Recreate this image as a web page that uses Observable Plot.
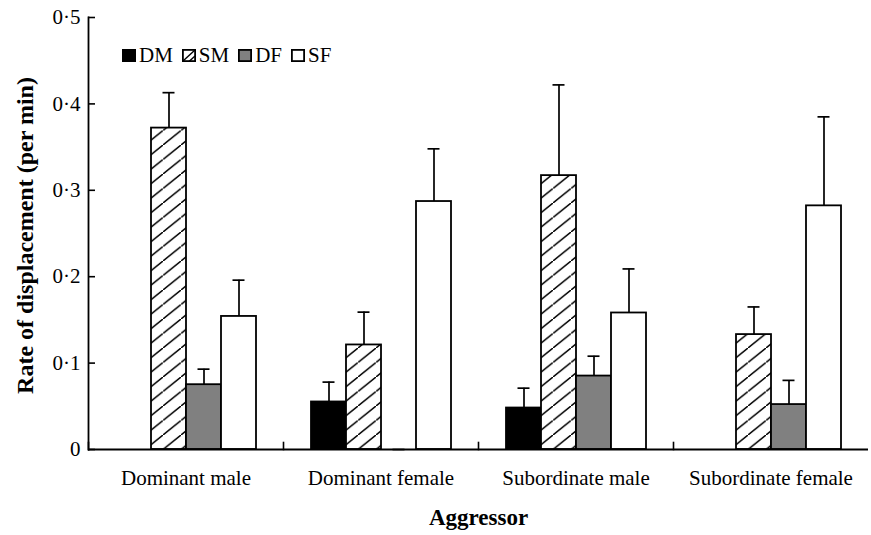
<!DOCTYPE html>
<html>
<head>
<meta charset="utf-8">
<script src="https://cdn.jsdelivr.net/npm/d3@7"></script>
<script src="https://cdn.jsdelivr.net/npm/@observablehq/plot@0.6"></script>
<style>
  html, body { margin: 0; padding: 0; background: white; }
  #wrap { position: relative; width: 871px; height: 535px; font-family: "Liberation Serif", "Times New Roman", serif; }
  #legend { position: absolute; left: 122px; top: 43px; display: flex; align-items: center; font-size: 21px; color: black; }
  #legend .item { display: flex; align-items: center; margin-right: 9px; }
  #legend svg { margin-right: 3px; }
</style>
</head>
<body>
<div id="wrap"><div id="legend"></div></div>
<script>
const aggressors = ["Dominant male", "Dominant female", "Subordinate male", "Subordinate female"];
const classes = ["DM", "SM", "DF", "SF"];
const classFills = ["black", "url(#hatch)", "#808080", "white"];

// mean rate of displacement per class, by aggressor
const meanDM = [null, 0.055, 0.048, null];
const meanSM = [0.372, 0.121, 0.317, 0.133];
const meanDF = [0.075, 0, 0.085, 0.052];
const meanSF = [0.154, 0.287, 0.158, 0.282];
// standard errors
const seDM = [null, 0.023, 0.023, null];
const seSM = [0.041, 0.038, 0.105, 0.032];
const seDF = [0.018, 0, 0.023, 0.028];
const seSF = [0.042, 0.061, 0.051, 0.103];

const yTicks = [0, 0.1, 0.2, 0.3, 0.4, 0.5];
const yTickLabels = ["0", "0·1", "0·2", "0·3", "0·4", "0·5"];

const means = {DM: meanDM, SM: meanSM, DF: meanDF, SF: meanSF};
const ses = {DM: seDM, SM: seSM, DF: seDF, SF: seSF};
const rows = [];
aggressors.forEach((a, i) => {
  classes.forEach(c => {
    const v = means[c][i];
    if (v != null) rows.push({agg: a, cls: c, value: v, upper: v + ses[c][i]});
  });
});

const chart = Plot.plot({
  width: 871,
  height: 535,
  marginLeft: 87,
  marginRight: 2,
  marginTop: 17,
  marginBottom: 86,
  style: {fontFamily: "Liberation Serif, Times New Roman, serif", fontSize: "21px", color: "black", background: "white"},
  fx: {domain: aggressors, padding: 0},
  x: {domain: classes, paddingInner: 0, paddingOuter: 0.72, axis: null},
  y: {domain: [0, 0.5]},
  color: {domain: classes, range: classFills},
  marks: [
    Plot.barY(rows, {fx: "agg", x: "cls", y: "value", fill: "cls", stroke: "black", strokeWidth: 1.8}),
    Plot.ruleX(rows, {fx: "agg", x: "cls", y1: "value", y2: "upper", stroke: "black", strokeWidth: 1.7}),
    Plot.tickY(rows, {fx: "agg", x: "cls", y: "upper", insetLeft: 11.5, insetRight: 11.5, stroke: "black", strokeWidth: 1.7}),
    Plot.ruleY([0], {stroke: "black", strokeWidth: 1.8}),
    Plot.frame({anchor: "left", insetTop: 425, stroke: "black", strokeWidth: 1.6}),
    Plot.frame({anchor: "left", facet: "super", stroke: "black", strokeWidth: 1.8}),
    Plot.axisY({ticks: yTicks, tickSize: -7, fill: "none", label: null, strokeWidth: 1.6}),
    Plot.axisY({ticks: yTicks, tickSize: 0, tickPadding: 8, label: null,
      tickFormat: d => yTickLabels[yTicks.findIndex(t => Math.abs(t - d) < 1e-9)]}),
    Plot.axisFx({anchor: "bottom", tickSize: 0, tickPadding: 21, label: null}),
    Plot.text(["Rate of displacement (per min)"], {frameAnchor: "left", facet: "super", textAnchor: "middle", rotate: -90, dx: -63, dy: 2, fontWeight: "bold", fontSize: 24}),
    Plot.text(["Aggressor"], {frameAnchor: "bottom", facet: "super", dy: 75, fontWeight: "bold", fontSize: 23})
  ]
});

// hatch pattern definition
const ns = "http://www.w3.org/2000/svg";
const defs = document.createElementNS(ns, "defs");
defs.innerHTML = `<pattern id="hatch" patternUnits="userSpaceOnUse" width="18" height="14.5">
  <rect width="18" height="14.5" fill="white"/>
  <path d="M-3,16.9 L3,12.1 M0,14.5 L18,0 M15,2.4 L21,-2.4" stroke="black" stroke-width="1.5"/>
</pattern>`;
chart.insertBefore(defs, chart.firstChild);

const wrap = document.getElementById("wrap");
wrap.insertBefore(chart, wrap.firstChild);

// legend
const legend = document.getElementById("legend");
classes.forEach((c, i) => {
  const item = document.createElement("div");
  item.className = "item";
  let sw;
  if (c === "SM") {
    sw = `<svg width="14" height="13"><rect x="0.9" y="0.9" width="12.2" height="11.2" fill="white" stroke="black" stroke-width="1.8"/><line x1="1" y1="12" x2="13" y2="1" stroke="black" stroke-width="1.4"/><line x1="7" y1="12.5" x2="13" y2="7" stroke="black" stroke-width="1.4"/></svg>`;
  } else {
    sw = `<svg width="14" height="13"><rect x="0.9" y="0.9" width="12.2" height="11.2" fill="${classFills[i]}" stroke="black" stroke-width="1.8"/></svg>`;
  }
  item.innerHTML = sw + `<span>${c}</span>`;
  legend.appendChild(item);
});
</script>
</body>
</html>
